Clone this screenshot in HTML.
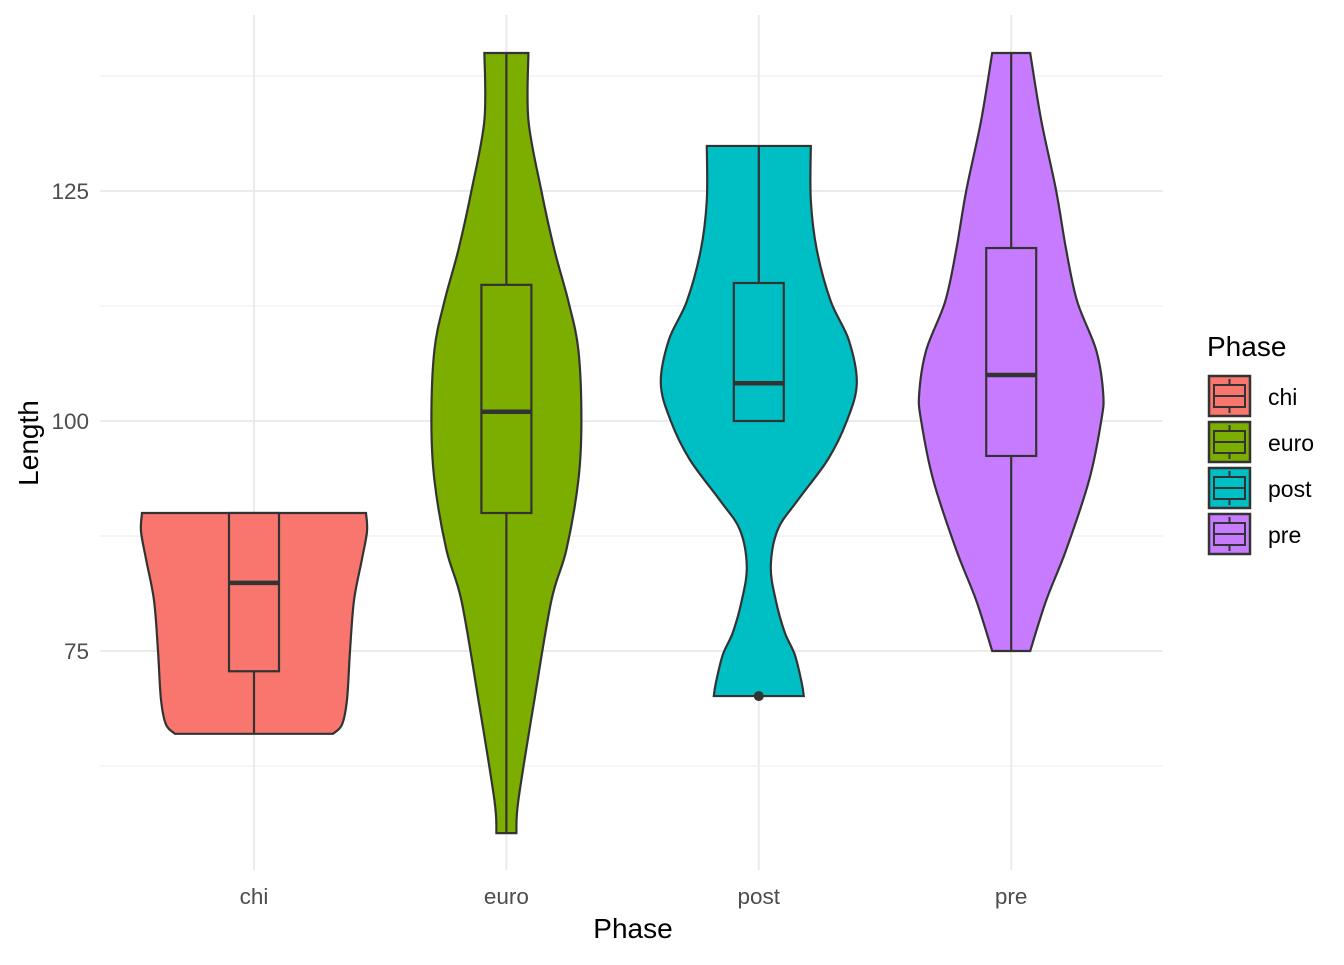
<!DOCTYPE html>
<html><head><meta charset="utf-8"><style>
body{margin:0;background:#fff;font-family:"Liberation Sans",sans-serif}
svg text{font-family:"Liberation Sans",sans-serif}
</style></head><body>
<svg id="chart" width="1344" height="960">
<g id="grid"></g><g id="marks"></g><g id="axes"></g><g id="legend"></g>
</svg>
<script>
const categories=["chi","euro","post","pre"];
const colors=["#F8766D","#7CAE00","#00BFC4","#C77CFF"];
const yTicks=[75,100,125];
const yMinor=[62.5,87.5,112.5,137.5];
// violin profiles: values and half-widths (px)
const violinVals=[
 [66,67,69.7,75,80.5,85,88,90],
 [55.2,58.8,69.7,80.5,86,93.6,100,107.7,113,118.6,125,132.7,140],
 [70.1,71.5,74.6,77,80.5,84.2,88.2,91.4,95.8,100,104.1,108.8,113,118.6,124,129.9],
 [75,80.5,86,93.6,100,103,107.7,113,118.6,125,132.7,140]
];
const violinHalf=[
 [79,88,93,96,100,108,113,112],
 [10,12,28,45,60,72,75,72,62,48,35,22,22],
 [45,43,36,26,17,12,19,39,69,88,98,90,72,58,52,52],
 [19,35,55,78,90,92,85,66,55,45,30,19]
];
const q1=[72.8,90,100,96.2];
const med=[82.4,101,104.1,105];
const q3=[90,114.8,115,118.8];
const whiskLo=[66,55.2,100,75];
const whiskHi=[90,140,130,140];
const outliers=[[],[],[70.1],[]];

const NS="http://www.w3.org/2000/svg";
const y=v=>421-(v-100)*9.2;
const x=i=>254+i*252.4;
function mk(tag,attrs,parent){const e=document.createElementNS(NS,tag);for(const k in attrs)e.setAttribute(k,attrs[k]);parent.appendChild(e);return e;}
const grid=document.getElementById('grid'),marks=document.getElementById('marks'),axes=document.getElementById('axes'),legend=document.getElementById('legend');
yMinor.forEach(v=>{const l=mk('line',{x1:100,x2:1163,y1:y(v),y2:y(v),stroke:'#ebebeb','stroke-width':1},grid);

});
yTicks.forEach(v=>{const l=mk('line',{x1:100,x2:1163,y1:y(v),y2:y(v),stroke:'#ebebeb','stroke-width':2},grid);


const t=mk('text',{x:89,y:y(v)+8,'text-anchor':'end','font-size':22.5,fill:'#4d4d4d'},axes);t.textContent=v;

});
categories.forEach((c,i)=>{const l=mk('line',{x1:x(i),x2:x(i),y1:15,y2:870,stroke:'#ebebeb','stroke-width':2},grid);


const t=mk('text',{x:x(i),y:904,'text-anchor':'middle','font-size':22.5,fill:'#4d4d4d'},axes);t.textContent=c;

});
function smooth(pts){let d='M'+pts[0][0]+','+pts[0][1];
for(let i=0;i<pts.length-1;i++){const p0=pts[Math.max(0,i-1)],p1=pts[i],p2=pts[i+1],p3=pts[Math.min(pts.length-1,i+2)];
const c1=[p1[0]+(p2[0]-p0[0])/6,p1[1]+(p2[1]-p0[1])/6],c2=[p2[0]-(p3[0]-p1[0])/6,p2[1]-(p3[1]-p1[1])/6];
d+=' C'+c1[0]+','+c1[1]+' '+c2[0]+','+c2[1]+' '+p2[0]+','+p2[1];}return d;}
categories.forEach((c,i)=>{const cx=x(i);const vs=violinVals[i],hw=violinHalf[i];
const right=vs.map((v,k)=>[cx+hw[k],y(v)]);const left=vs.map((v,k)=>[cx-hw[k],y(v)]).reverse();
let d=smooth(right)+' L'+left[0][0]+','+left[0][1]+smooth(left).replace(/^M[^ ]+/,'')+' Z';
const p=mk('path',{d:d,fill:colors[i],stroke:'#333','stroke-width':2.2},marks);


const g=mk('g',{},marks);


mk('line',{x1:cx,x2:cx,y1:y(whiskHi[i]),y2:y(q3[i]),stroke:'#333','stroke-width':2.2},g);
mk('line',{x1:cx,x2:cx,y1:y(q1[i]),y2:y(whiskLo[i]),stroke:'#333','stroke-width':2.2},g);
mk('rect',{x:cx-25,y:y(q3[i]),width:50,height:y(q1[i])-y(q3[i]),fill:colors[i],stroke:'#333','stroke-width':2.2},g);
mk('line',{x1:cx-25,x2:cx+25,y1:y(med[i]),y2:y(med[i]),stroke:'#333','stroke-width':4.5},g);
outliers[i].forEach(o=>{const ci=mk('circle',{cx:cx,cy:y(o),r:5,fill:'#333'},g);

});});
const xt=mk('text',{x:633,y:938,'text-anchor':'middle','font-size':28,fill:'#000'},axes);xt.textContent='Phase';


const yt=mk('text',{x:0,y:0,transform:'translate(38,443) rotate(-90)','text-anchor':'middle','font-size':28,fill:'#000'},axes);yt.textContent='Length';


const lt=mk('text',{x:1207,y:356,'font-size':28,fill:'#000'},legend);lt.textContent='Phase';


categories.forEach((c,i)=>{const top=376+i*46;const g=mk('g',{},legend);


mk('rect',{x:1209,y:top,width:41,height:40,fill:colors[i],stroke:'#333','stroke-width':2.5},g);
mk('line',{x1:1229.5,x2:1229.5,y1:top+3,y2:top+37,stroke:'#333','stroke-width':2},g);
mk('rect',{x:1214,y:top+9,width:31,height:22,fill:colors[i],stroke:'#333','stroke-width':2},g);
mk('line',{x1:1214,x2:1245,y1:top+20,y2:top+20,stroke:'#333','stroke-width':2},g);
const t=mk('text',{x:1268,y:top+29,'font-size':23,fill:'#000'},g);t.textContent=c;});
</script>
</body></html>
